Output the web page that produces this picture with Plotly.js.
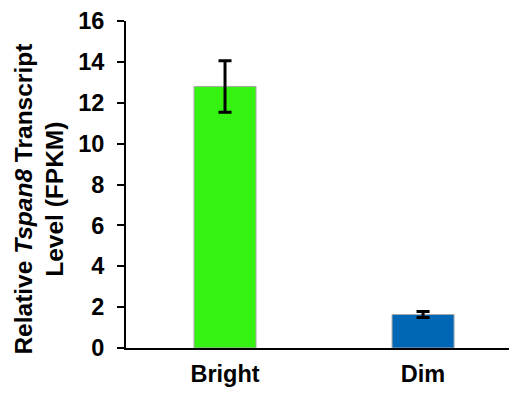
<!DOCTYPE html>
<html>
<head>
<meta charset="utf-8">
<script src="https://cdn.plot.ly/plotly-3.0.1.min.js"></script>
<style>
html,body{margin:0;padding:0;background:#fff;}
#chart{width:509px;height:394px;}
</style>
</head>
<body>
<div id="chart"></div>
<script>
const categories = ["Bright", "Dim"];
const values = [12.8, 1.64];
const errors = [1.26, 0.15];
const barColors = ["#35F212", "#0066B6"];
const yTickVals = [0, 2, 4, 6, 8, 10, 12, 14, 16];
const yTitle = "Relative <i>Tspan8</i> Transcript<br>Level (FPKM)";

const FONT = "Liberation Sans, Arial, sans-serif";

const trace = {
  type: "bar",
  x: [0, 1],
  y: values,
  width: 0.313,
  marker: { color: barColors, line: { color: "#A8A8A8", width: 1 } },
  error_y: { type: "data", array: errors, visible: true, color: "#000", thickness: 3, width: 6.5 },
  hoverinfo: "none"
};

const layout = {
  width: 509,
  height: 394,
  margin: { l: 126, r: 0, t: 21, b: 46 },
  paper_bgcolor: "#fff",
  plot_bgcolor: "#fff",
  showlegend: false,
  font: { family: FONT, color: "#000", size: 23, weight: 700 },
  xaxis: {
    range: [-0.5, 1.434],
    tickvals: [0, 1],
    ticktext: categories,
    showline: true, linecolor: "#000", linewidth: 2,
    ticks: "", showgrid: false, zeroline: false,
    tickfont: { family: FONT, size: 23.5, weight: 700, color: "#000" },
    ticklabelstandoff: 4,
    fixedrange: true
  },
  yaxis: {
    range: [0, 16],
    tickvals: yTickVals,
    ticktext: yTickVals.map(String),
    showline: true, linecolor: "#000", linewidth: 2,
    ticks: "outside", ticklen: 7, tickwidth: 2, tickcolor: "#000",
    showgrid: false, zeroline: false,
    tickfont: { family: FONT, size: 23.5, weight: 700, color: "#000" },
    ticklabelstandoff: 8,
    fixedrange: true
  },
  annotations: [{
    text: yTitle,
    xref: "paper", yref: "paper",
    x: -0.227, y: 0.454,
    xanchor: "center", yanchor: "middle",
    textangle: -90,
    showarrow: false,
    font: { family: FONT, size: 24.5, weight: 700, color: "#000" }
  }]
};

Plotly.newPlot("chart", [trace], layout, { displayModeBar: false, staticPlot: true });
</script>
</body>
</html>
